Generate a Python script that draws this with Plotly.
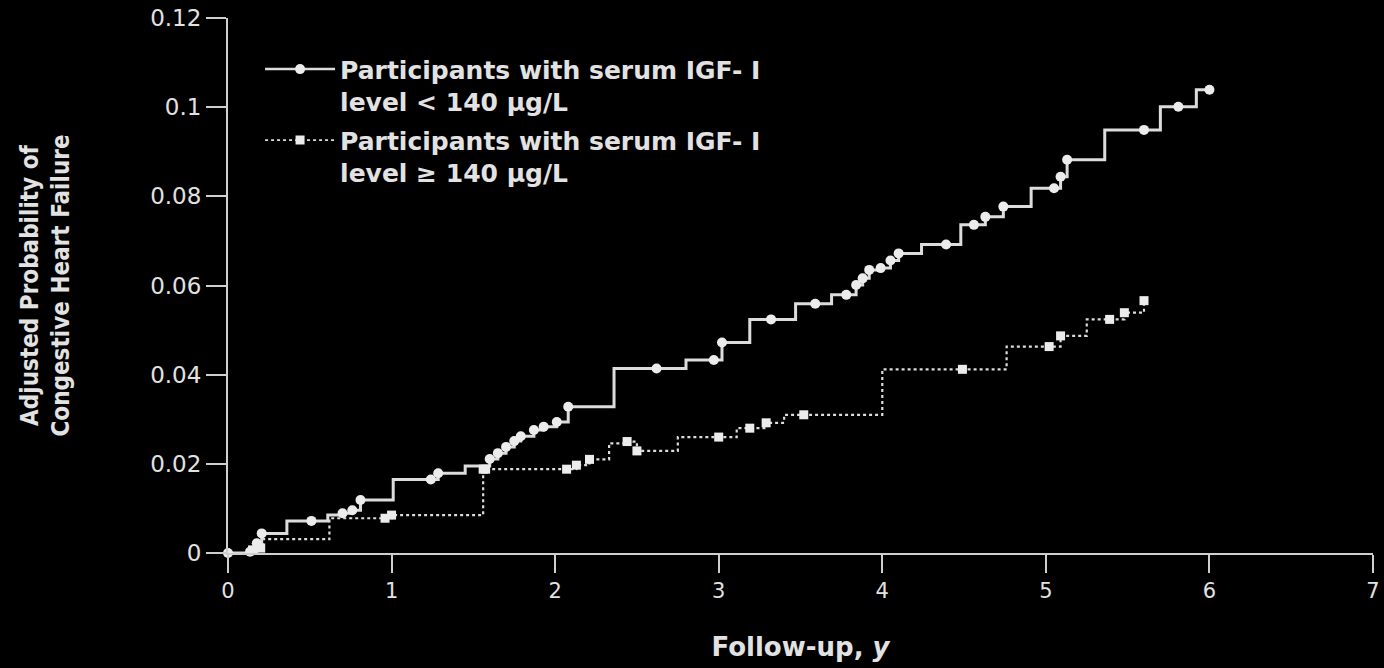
import numpy as np
import plotly.graph_objects as go

# ---------------- data ----------------
# Participants with serum IGF-I < 140 ug/L (solid, circles)
low_step_time = [0, 0.135, 0.176, 0.206, 0.36, 0.61, 0.70, 0.76, 0.81, 1.01, 1.285, 1.45,
                 1.60, 1.65, 1.70, 1.75, 1.79, 1.87, 1.93, 2.01, 2.08, 2.36, 2.80, 3.02,
                 3.19, 3.47, 3.69, 3.84, 3.88, 3.92, 3.99, 4.05, 4.10, 4.24, 4.48, 4.63,
                 4.74, 4.91, 5.09, 5.13, 5.36, 5.70, 5.92]
low_step_prob = [0, 0.0003, 0.0022, 0.0044, 0.0072, 0.0085, 0.0089, 0.0096, 0.0119, 0.0165,
                 0.0179, 0.0195, 0.0211, 0.0224, 0.0238, 0.0251, 0.0262, 0.0276, 0.0283,
                 0.0294, 0.0328, 0.0414, 0.0433, 0.0472, 0.0524, 0.0559, 0.0579, 0.0601,
                 0.0616, 0.0635, 0.0639, 0.0656, 0.0672, 0.0692, 0.0736, 0.0754, 0.0777,
                 0.0818, 0.0844, 0.0882, 0.0949, 0.1001, 0.1039]
low_end_time = 6.00
low_marker_time = [0, 0.135, 0.176, 0.206, 0.51, 0.70, 0.76, 0.81, 1.24, 1.285, 1.60, 1.65,
                   1.70, 1.75, 1.79, 1.87, 1.93, 2.01, 2.08, 2.62, 2.97, 3.02, 3.32, 3.59,
                   3.78, 3.84, 3.88, 3.92, 3.99, 4.05, 4.10, 4.39, 4.56, 4.63, 4.74, 5.05,
                   5.09, 5.13, 5.60, 5.81, 6.00]

# Participants with serum IGF-I >= 140 ug/L (dotted, squares)
high_step_time = [0, 0.15, 0.20, 0.215, 0.62, 1.00, 1.56, 2.13, 2.21, 2.33, 2.44, 2.50,
                  2.75, 3.11, 3.29, 3.40, 4.00, 4.76, 5.09, 5.25, 5.48, 5.60]
high_step_prob = [0, 0.0007, 0.0011, 0.0031, 0.0078, 0.0085, 0.0188, 0.0197, 0.0210, 0.0246,
                  0.0250, 0.0229, 0.0260, 0.0280, 0.0292, 0.0310, 0.0412, 0.0463, 0.0487,
                  0.0524, 0.0539, 0.0566]
high_end_time = 5.60
high_marker_time = [0.15, 0.20, 0.96, 1.00, 1.56, 1.575, 2.07, 2.13, 2.21, 2.44, 2.50, 3.00,
                    3.19, 3.29, 3.52, 4.49, 5.02, 5.09, 5.39, 5.48, 5.60]

x_tick_vals = [0, 1, 2, 3, 4, 5, 6, 7]
y_tick_vals = [0, 0.02, 0.04, 0.06, 0.08, 0.10, 0.12]
y_tick_text = ["0", "0.02", "0.04", "0.06", "0.08", "0.1", "0.12"]

low_name = "Participants with serum IGF- I<br>level &lt; 140 \u00b5g/L"
high_name = "Participants with serum IGF- I<br>level \u2265 140 \u00b5g/L"


def step_value(times, probs, t):
    idx = np.searchsorted(np.array(times), np.array(t), side="right") - 1
    return np.array(probs)[idx]


LINE_C = "#dcdcdc"
MARK_C = "#ececec"
TEXT_C = "#e2e2e2"
AXIS_C = "#cfcfcf"

fig = go.Figure()

# step lines
fig.add_trace(go.Scatter(
    x=low_step_time + [low_end_time], y=low_step_prob + [low_step_prob[-1]],
    mode="lines", line=dict(shape="hv", color=LINE_C, width=3),
    showlegend=False, hoverinfo="skip"))
fig.add_trace(go.Scatter(
    x=high_step_time + [high_end_time], y=high_step_prob + [high_step_prob[-1]],
    mode="lines", line=dict(shape="hv", color=LINE_C, width=2.2, dash="dot"),
    showlegend=False, hoverinfo="skip"))

# markers
fig.add_trace(go.Scatter(
    x=low_marker_time, y=step_value(low_step_time, low_step_prob, low_marker_time),
    mode="markers", marker=dict(symbol="circle", size=10, color=MARK_C),
    showlegend=False, cliponaxis=False))
fig.add_trace(go.Scatter(
    x=high_marker_time, y=step_value(high_step_time, high_step_prob, high_marker_time),
    mode="markers", marker=dict(symbol="square", size=9, color=MARK_C),
    showlegend=False, cliponaxis=False))

# legend entries
fig.add_trace(go.Scatter(
    x=[None], y=[None], mode="lines+markers", name=low_name, legendgroup="low",
    line=dict(color=LINE_C, width=2.5), marker=dict(symbol="circle", size=10, color=MARK_C)))
fig.add_trace(go.Scatter(
    x=[None], y=[None], mode="lines+markers", name=high_name, legendgroup="high",
    line=dict(color=LINE_C, width=1.8, dash="dot"), marker=dict(symbol="square", size=9, color=MARK_C)))

fig.update_layout(
    width=1384, height=668,
    margin=dict(l=228, r=11, t=18, b=115),
    paper_bgcolor="black", plot_bgcolor="black",
    font=dict(family="DejaVu Sans", color=TEXT_C),
    legend=dict(
        x=0.028, y=0.947, xanchor="left", yanchor="top",
        bgcolor="rgba(0,0,0,0)", itemwidth=70, valign="top",
        traceorder="grouped", tracegroupgap=3,
        font=dict(family="DejaVu Sans", size=25, color=TEXT_C, weight="bold"),
    ),
    xaxis=dict(
        range=[0, 7], tickvals=x_tick_vals, showgrid=False, zeroline=False,
        showline=True, linecolor=AXIS_C, linewidth=2, automargin=False,
        ticks="outside", ticklen=18, tickwidth=2, tickcolor=AXIS_C,
        tickfont=dict(size=21, family="DejaVu Sans"),
        title=dict(text="Follow-up, <i>y</i>", standoff=36,
                   font=dict(size=26, family="DejaVu Sans", weight="bold")),
    ),
    yaxis=dict(
        range=[0, 0.12], tickvals=y_tick_vals, ticktext=y_tick_text,
        showgrid=False, zeroline=False, automargin=False,
        showline=True, linecolor=AXIS_C, linewidth=2,
        ticks="outside", ticklen=20, tickwidth=2, tickcolor=AXIS_C,
        tickfont=dict(size=23, family="DejaVu Sans"),
        title=dict(text="Adjusted Probability of<br>Congestive Heart Failure", standoff=74,
                   font=dict(size=24, family="DejaVu Sans Condensed", weight="bold")),
    ),
)

fig.write_html("out.html")
